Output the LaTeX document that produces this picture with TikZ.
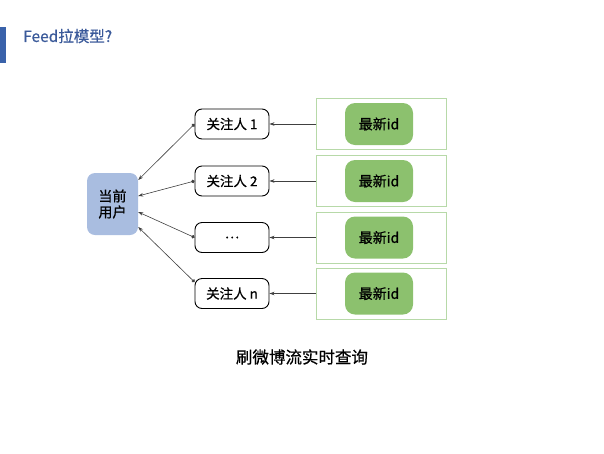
\documentclass[tikz,border=0pt]{standalone}
\usepackage{fontspec}
\setmainfont{Noto Sans CJK SC}[FakeBold=0.7, AutoFakeBold=0.7]
\usepackage{tikz}
\usetikzlibrary{arrows.meta}
\definecolor{TitleBlue}{HTML}{3B5A9A}
\definecolor{BarBlue}{HTML}{3A62AA}
\definecolor{UserBlue}{HTML}{A9BDE0}
\definecolor{IdGreen}{HTML}{8CC16E}
\definecolor{FrameGreen}{HTML}{B7D9A8}

\begin{document}
\begin{tikzpicture}[x=1pt, y=-1pt,
	every node/.style={inner sep=0pt, font=\bfseries},
	follow/.style={draw=black, line width=0.9pt, rounded corners=7pt, fill=white, minimum width=74pt, minimum height=30pt, font=\fontsize{13.5}{16}\selectfont\bfseries},
	frame/.style={draw=FrameGreen, line width=0.8pt, minimum width=130pt, minimum height=51pt},
	newid/.style={fill=IdGreen, rounded corners=10pt, minimum width=68pt, minimum height=42pt, font=\fontsize{14}{16}\selectfont\bfseries},
	link/.style={draw=black!75, line width=0.6pt}]

	\useasboundingbox (0,0) rectangle (604,453);

	% title
	\fill[BarBlue] (0,27) rectangle (6,63);
	\node[anchor=west, text=TitleBlue, font=\fontsize{15.5}{18}\selectfont\bfseries] (title) at (23,36) {Feed拉模型?};

	% current user
	\node[fill=UserBlue, rounded corners=8pt, minimum width=51pt, minimum height=62pt, align=center, font=\fontsize{14}{16}\selectfont\bfseries] (user) at (112.5,204) {当前\\用户};

	% followers and their latest ids
	\foreach \y/\t/\n in {124/关注人 1/1, 181/关注人 2/2, 237.5/\ldots/3, 293.5/关注人 n/4}{
		\node[follow] (f\n) at (232,\y) {\t};
		\node[frame] (box\n) at (381,\y) {};
		\node[newid] (id\n) at (379,\y) {最新id};
		\draw[link, -{Stealth[length=5pt, width=3.5pt]}] (box\n) -- (f\n);
	}

	\draw[link, {Circle[length=3.5pt]}-{Stealth[length=5pt, width=3.5pt]}] (f1.west) -- ([yshift=24pt]user.east);
	\draw[link, {Circle[length=3.5pt]}-{Stealth[length=5pt, width=3.5pt]}] (f2.west) -- ([yshift=8pt]user.east);
	\draw[link, {Circle[length=3.5pt]}-{Stealth[length=5pt, width=3.5pt]}] (f3.west) -- ([yshift=-8pt]user.east);
	\draw[link, {Circle[length=3.5pt]}-{Stealth[length=5pt, width=3.5pt]}] ([yshift=-4pt]f4.north west) -- ([yshift=-23pt]user.east);

	% caption
	\node[font=\fontsize{16.5}{18}\selectfont\bfseries] (caption) at (302,357) {刷微博流实时查询};
\end{tikzpicture}
\end{document}
